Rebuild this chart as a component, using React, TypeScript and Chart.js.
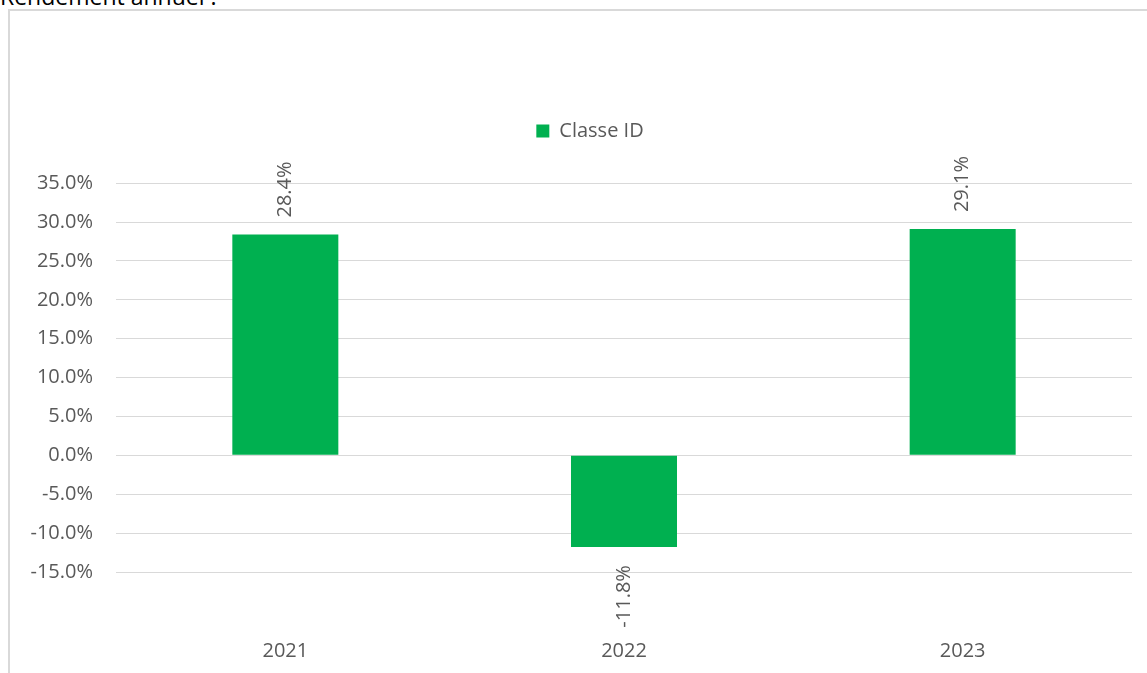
import React, { useEffect, useRef } from 'react';
import { Chart, registerables } from 'chart.js';

Chart.register(...registerables);

// ---- data ----
const categories: string[] = ['2021', '2022', '2023'];
const classeID: number[] = [28.4, -11.8, 29.1];
const seriesName = 'Classe ID';
const yMin = -15;
const yMax = 35;
const yStep = 5;
const chartTitle = 'Rendement annuel :';

const FONT = "'Open Sans', sans-serif";
const TEXT = '#595959';
const BAR = '#00B050';
const GRID = '#D9D9D9';

const valueLabels = {
  id: 'valueLabels',
  afterDatasetsDraw(chart: any) {
    const ctx = chart.ctx as CanvasRenderingContext2D;
    const meta = chart.getDatasetMeta(0);
    const data = chart.data.datasets[0].data as number[];
    ctx.save();
    ctx.font = `20px ${FONT}`;
    ctx.fillStyle = TEXT;
    ctx.textBaseline = 'middle';
    meta.data.forEach((bar: any, i: number) => {
      const v = data[i];
      const { x, y } = bar.getProps(['x', 'y'], true);
      ctx.save();
      ctx.translate(x, v >= 0 ? y - 17 : y + 18);
      ctx.rotate(-Math.PI / 2);
      ctx.textAlign = v >= 0 ? 'left' : 'right';
      ctx.fillText(v.toFixed(1) + '%', 0, 0);
      ctx.restore();
    });
    ctx.restore();
  },
};

export default function App() {
  const ref = useRef<HTMLCanvasElement | null>(null);

  useEffect(() => {
    if (!ref.current) return;
    const chart = new Chart(ref.current, {
      type: 'bar',
      data: {
        labels: categories,
        datasets: [
          {
            label: seriesName,
            data: classeID,
            backgroundColor: BAR,
            borderWidth: 0,
            categoryPercentage: 1,
            barPercentage: 0.313,
            yAxisID: 'y',
          },
        ],
      },
      options: {
        responsive: false,
        animation: false,
        devicePixelRatio: 1,
        layout: { padding: { top: 100, left: 0, right: 0, bottom: 0 } },
        plugins: {
          legend: {
            position: 'top',
            weight: 3000,
            labels: {
              boxWidth: 13,
              boxHeight: 13,
              padding: 10,
              color: TEXT,
              font: { size: 20, family: FONT },
            },
          },
          title: {
            display: true,
            text: '',
            padding: { top: 31, bottom: 0 },
            font: { size: 1 },
          },
          tooltip: { enabled: false },
        },
        scales: {
          x: {
            grid: { display: false, drawTicks: false },
            border: { display: false },
            ticks: { color: TEXT, font: { size: 20, family: FONT }, padding: 67 },
            afterFit: (s: any) => {
              s.height = 101;
            },
          },
          y: {
            position: 'left',
            min: yMin,
            max: yMax,
            ticks: {
              stepSize: yStep,
              color: TEXT,
              font: { size: 20, family: FONT },
              padding: 23,
              callback: (v: any) => Number(v).toFixed(1) + '%',
            },
            grid: { color: GRID, lineWidth: 1, drawTicks: false },
            border: { display: false },
            afterFit: (s: any) => {
              s.width = 106;
            },
          },
          yRight: {
            position: 'right',
            display: true,
            ticks: { display: false },
            grid: { display: false, drawTicks: false, drawOnChartArea: false },
            border: { display: false },
            afterFit: (s: any) => {
              s.width = 38;
            },
          },
        },
      } as any,
      plugins: [valueLabels],
    });
    return () => chart.destroy();
  }, []);

  return (
    <div
      style={{
        position: 'fixed',
        left: 0,
        top: 0,
        width: 1147,
        height: 673,
        overflow: 'hidden',
        background: '#fff',
      }}
    >
      <div
        style={{
          position: 'absolute',
          left: 0,
          top: -20,
          font: `23px ${FONT}`,
          color: '#000',
          whiteSpace: 'nowrap',
        }}
      >
        {chartTitle}
      </div>
      <div
        style={{
          position: 'absolute',
          left: 8,
          top: 9,
          width: 1200,
          height: 720,
          border: `2px solid ${GRID}`,
          boxSizing: 'border-box',
        }}
      />
      <canvas ref={ref} width={1160} height={662} style={{ position: 'absolute', left: 10, top: 11 }} />
    </div>
  );
}
